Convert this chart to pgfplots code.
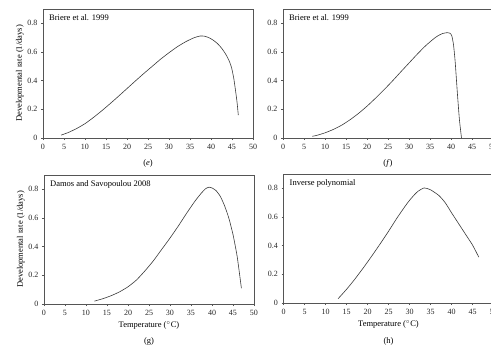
\documentclass[border=0pt]{standalone}
\usepackage{pgfplots}
\pgfplotsset{compat=1.18}
\usepackage{fontspec}
\setmainfont{Liberation Serif}
\definecolor{curve}{HTML}{3A3A3A}
\definecolor{frame}{HTML}{555555}
\pgfplotsset{
  panel/.style={
    scale only axis, width=210pt, height=129pt,
    xmin=0, xmax=50, ymin=0, ymax=0.9,
    xtick={0,5,...,50}, ytick={0,0.2,0.4,0.6,0.8},
    tick pos=left, tick align=outside, major tick length=2pt,
    axis line style={frame, line width=0.5pt},
    every tick/.style={frame, line width=0.4pt},
    /pgf/number format/assume math mode=true,
    /pgf/number format/fixed,
    tick label style={font=\fontsize{8}{9}\selectfont, text=black!85},
    xticklabel style={yshift=-0.5pt},
    every axis x label/.style={at={(axis description cs:0.5,0)},anchor=center,yshift=-21.5pt,font=\fontsize{8.5}{10}\selectfont},
    every axis y label/.style={at={(axis description cs:-0.11,0.5)},rotate=90,anchor=center,font=\fontsize{8.5}{10}\selectfont},
    clip=false,
  },
  curvestyle/.style={curve, line width=0.6pt, smooth, no marks, tension=0.35},
}
\newcommand{\paneltitle}[1]{\node[anchor=north west, inner sep=0pt, font=\fontsize{8.5}{10}\selectfont] at ([xshift=6pt,yshift=-5pt]rel axis cs:0,1) {#1};}
\begin{document}
\begin{tikzpicture}
\useasboundingbox (0,0) rectangle (491pt,-345pt);
\clip (0,0) rectangle (491pt,-345pt);
% (e)
\begin{axis}[panel, at={(43pt,-138pt)}, anchor=south west, ylabel={Developmental rate (1/days)}]
\addplot[curvestyle] coordinates {
(4.3,0.02) (6,0.038) (8,0.066) (10,0.10) (12,0.143) (14,0.19) (16,0.24) (18,0.292)
(20,0.345) (22,0.398) (24,0.45) (26,0.50) (28,0.55) (30,0.595) (32,0.637) (34,0.672)
(36,0.700) (37.5,0.712) (38.5,0.71) (39.5,0.70) (40.5,0.683) (41.5,0.66) (42.5,0.628)
(43.5,0.585) (44.3,0.54) (44.9,0.49) (45.4,0.42) (45.8,0.34) (46.2,0.25) (46.5,0.16)};
\paneltitle{Briere et al. 1999}
\node[font=\fontsize{8.5}{10}\selectfont] at ([yshift=-25pt]rel axis cs:0.5,0) {(\textit{e})};
\end{axis}
% (f)
\begin{axis}[panel, at={(283pt,-138pt)}, anchor=south west]
\addplot[curvestyle] coordinates {
(7,0.012) (8,0.018) (10,0.036) (12,0.060) (14,0.090) (16,0.128) (18,0.172) (20,0.222)
(22,0.277) (24,0.335) (26,0.396) (28,0.460) (30,0.523) (32,0.586) (34,0.645) (36,0.695)
(37,0.715) (38,0.729) (39.1,0.735) (39.8,0.73) (40.2,0.712) (40.6,0.65) (41.0,0.53)
(41.5,0.32) (42.0,0.13) (42.5,0.0)};
\paneltitle{Briere et al. 1999}
\node[font=\fontsize{8.5}{10}\selectfont] at ([yshift=-25pt]rel axis cs:0.5,0) {(\textit{f})};
\end{axis}
% (g)
\begin{axis}[panel, at={(44pt,-304pt)}, anchor=south west, ylabel={Developmental rate (1/days)}, xlabel={Temperature ($^\circ$C)}]
\addplot[curvestyle] coordinates {
(12,0.02) (14,0.037) (16,0.058) (18,0.085) (20,0.12) (22,0.167) (24,0.23) (26,0.30)
(28,0.38) (30,0.46) (32,0.545) (34,0.635) (36,0.72) (37.5,0.775) (38.5,0.805) (39.3,0.815)
(40,0.81) (41,0.79) (42,0.75) (43,0.685) (44,0.60) (45,0.485) (46,0.33) (47,0.11)};
\paneltitle{Damos and Savopoulou 2008}
\node[font=\fontsize{8.5}{10}\selectfont] at ([yshift=-37.5pt]rel axis cs:0.5,0) {(g)};
\end{axis}
% (h)
\begin{axis}[panel, at={(283.5pt,-303pt)}, anchor=south west, xlabel={Temperature ($^\circ$C)}]
\addplot[curvestyle] coordinates {
(13,0.03) (15,0.095) (17,0.167) (19,0.245) (21,0.327) (23,0.412) (25,0.50) (27,0.592)
(29,0.677) (30,0.716) (31,0.75) (32,0.779) (33.5,0.803) (35,0.79) (37,0.75) (38.5,0.70)
(40,0.63) (41,0.585) (42,0.54) (43,0.495) (44,0.45) (45,0.405) (46.5,0.32)};
\paneltitle{Inverse polynomial}
\node[font=\fontsize{8.5}{10}\selectfont] at ([yshift=-38.5pt]rel axis cs:0.5,0) {(h)};
\end{axis}
\end{tikzpicture}
\end{document}
